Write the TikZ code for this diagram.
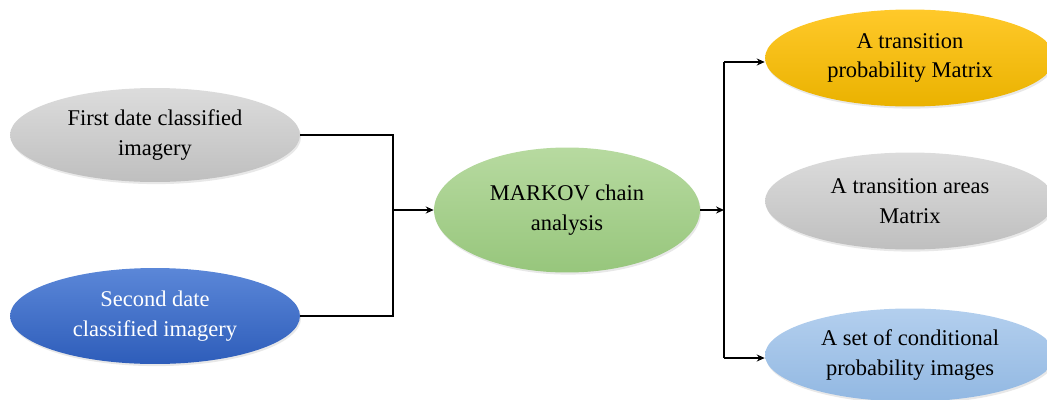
\documentclass[tikz,border=0pt]{standalone}
\usepackage{fontspec}
\setmainfont{Liberation Serif}
\usetikzlibrary{arrows.meta,shadows,shapes.geometric}
\definecolor{greyA}{HTML}{DCDCDC}
\definecolor{greyB}{HTML}{BFBFBF}
\definecolor{blueA}{HTML}{5B87D8}
\definecolor{blueB}{HTML}{2E5DBA}
\definecolor{greenA}{HTML}{B7DAA0}
\definecolor{greenB}{HTML}{97C67C}
\definecolor{yellowA}{HTML}{FFC92A}
\definecolor{yellowB}{HTML}{EAB200}
\definecolor{lblueA}{HTML}{B3CFEE}
\definecolor{lblueB}{HTML}{92B8E2}
\tikzset{
  oval/.style={ellipse, inner sep=0pt, align=center,
    font=\fontsize{12.8}{17}\selectfont,
    drop shadow={shadow xshift=0.6pt, shadow yshift=-1.2pt, opacity=0.18}},
  greyoval/.style={oval, top color=greyA, bottom color=greyB},
  blueoval/.style={oval, top color=blueA, bottom color=blueB, text=white},
  greenoval/.style={oval, top color=greenA, bottom color=greenB},
  yellowoval/.style={oval, top color=yellowA, bottom color=yellowB},
  lblueoval/.style={oval, top color=lblueA, bottom color=lblueB},
  wire/.style={draw=black, line width=0.75pt},
  arr/.style={wire, -{Stealth[length=4.5pt,width=4pt]}}
}
\begin{document}
\begin{tikzpicture}[x=0.02cm,y=-0.02cm]
\useasboundingbox (0,0) rectangle (1047,399);
\clip (0,0) rectangle (1047,399);

% input images
\node[greyoval, minimum width=5.8cm, minimum height=1.88cm] (first) at (155,135) {First date classified\\imagery};
\node[blueoval, minimum width=5.8cm, minimum height=1.92cm] (second) at (155,316) {Second date\\classified imagery};

% analysis step
\node[greenoval, minimum width=5.32cm, minimum height=2.5cm] (markov) at (567,210) {MARKOV chain\\analysis};

% outputs
\node[yellowoval, minimum width=5.8cm, minimum height=1.94cm] (tpm) at (910,58) {A transition\\probability Matrix};
\node[greyoval, minimum width=5.8cm, minimum height=1.94cm] (tam) at (910,201) {A transition areas\\Matrix};
\node[lblueoval, minimum width=5.8cm, minimum height=1.86cm] (cpi) at (910,355) {A set of conditional\\probability images};

% junction points
\coordinate (jin) at (393,210);
\coordinate (jout) at (724,210);
\coordinate (jtop) at (724,62);
\coordinate (jbot) at (724,358);

% merge the two inputs
\draw[wire] (first.east) -| (jin) |- (second.east);
\draw[arr] (jin) -- (markov.west);

% fan out to the outputs
\draw[arr] (markov.east) -- (jout);
\draw[wire] (jtop) -- (jbot);
\draw[arr] (jtop) -- (jtop -| tpm.west);
\draw[arr] (jbot) -- (jbot -| cpi.west);
\end{tikzpicture}
\end{document}
